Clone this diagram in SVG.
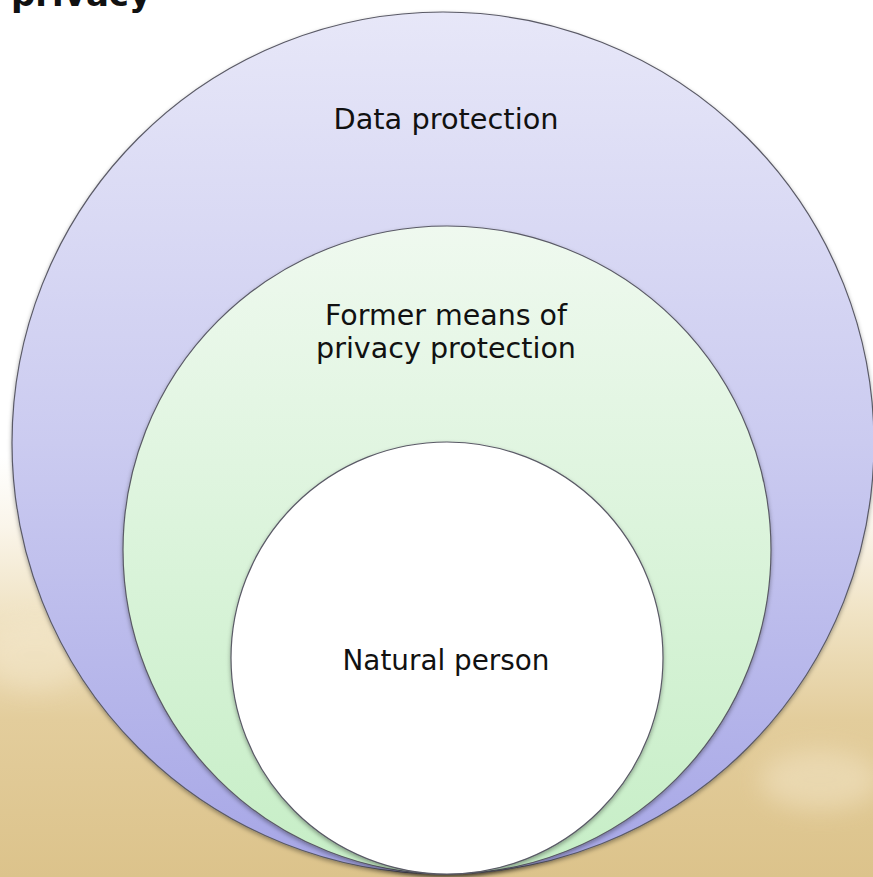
<svg xmlns="http://www.w3.org/2000/svg" width="873" height="877" viewBox="0 0 873 877">
  <defs>
    <linearGradient id="bg" x1="0" y1="0" x2="0" y2="877" gradientUnits="userSpaceOnUse">
      <stop offset="0" stop-color="#ffffff"/>
      <stop offset="0.52" stop-color="#ffffff"/>
      <stop offset="0.6" stop-color="#faf5ea"/>
      <stop offset="0.7" stop-color="#f0e3c4"/>
      <stop offset="0.82" stop-color="#e3cd9c"/>
      <stop offset="1" stop-color="#dcc38b"/>
    </linearGradient>
    <linearGradient id="outerFill" x1="0" y1="12" x2="0" y2="874" gradientUnits="userSpaceOnUse">
      <stop offset="0" stop-color="#e7e7f8"/>
      <stop offset="0.5" stop-color="#cbcbf0"/>
      <stop offset="1" stop-color="#a6a6e6"/>
    </linearGradient>
    <linearGradient id="middleFill" x1="0" y1="226" x2="0" y2="874" gradientUnits="userSpaceOnUse">
      <stop offset="0" stop-color="#eff9ef"/>
      <stop offset="1" stop-color="#c6eec6"/>
    </linearGradient>
    <filter id="shadow" x="-10%" y="-10%" width="120%" height="120%">
      <feDropShadow dx="0" dy="2" stdDeviation="2" flood-color="#000" flood-opacity="0.35"/>
    </filter>
    <filter id="haze" x="-50%" y="-50%" width="200%" height="200%">
      <feGaussianBlur stdDeviation="12"/>
    </filter>
    <style>
      .ring { stroke: #5a5a66; stroke-width: 1.2; filter: url(#shadow); }
      .label { font-family: "DejaVu Sans", Verdana, sans-serif; font-size: 28px; fill: #111; text-anchor: middle; }
      .title { font-family: "DejaVu Sans", Verdana, sans-serif; font-size: 34px; font-weight: bold; fill: #111; }
    </style>
  </defs>

  <!-- slide background with faint sandy clouds -->
  <rect x="0" y="0" width="873" height="877" fill="url(#bg)"/>
  <g fill="#f6ead0" opacity="0.45" filter="url(#haze)">
    <ellipse cx="35" cy="655" rx="50" ry="35"/>
    <ellipse cx="820" cy="780" rx="60" ry="30"/>
  </g>

  <!-- heading, clipped by the top edge -->
  <text class="title" x="11" y="6">privacy</text>

  <g id="node-data-protection">
    <circle class="ring" cx="443" cy="443" r="431" fill="url(#outerFill)"/>
    <text class="label" x="446" y="129" textLength="225" lengthAdjust="spacingAndGlyphs">Data protection</text>
  </g>

  <g id="node-former-means">
    <circle class="ring" cx="447" cy="550" r="324" fill="url(#middleFill)"/>
    <text class="label" x="446" y="325" textLength="242" lengthAdjust="spacingAndGlyphs">Former means of</text>
    <text class="label" x="446" y="358" textLength="260" lengthAdjust="spacingAndGlyphs">privacy protection</text>
  </g>

  <g id="node-natural-person">
    <circle class="ring" cx="447" cy="658" r="216" fill="#ffffff"/>
    <text class="label" x="446" y="670" textLength="207" lengthAdjust="spacingAndGlyphs">Natural person</text>
  </g>

  <g id="connectors"/>
</svg>
